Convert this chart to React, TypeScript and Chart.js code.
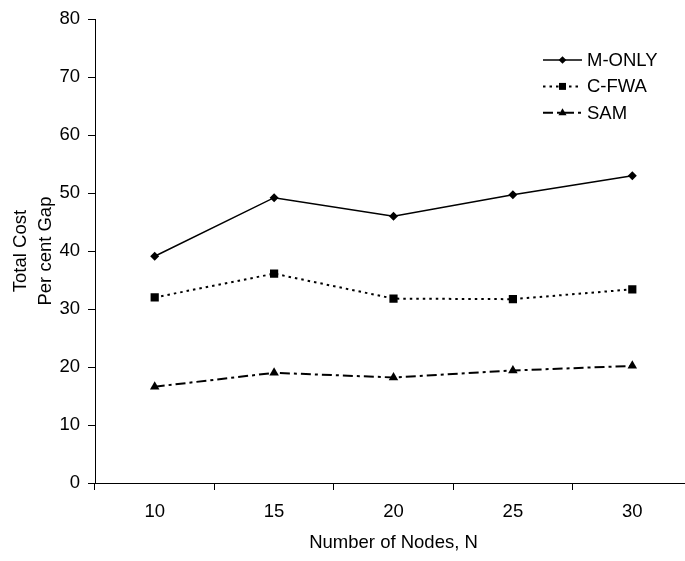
import React, { useEffect, useRef } from 'react';
import { Chart, registerables } from 'chart.js';
import { drawPoint } from 'chart.js/helpers';

Chart.register(...registerables);

// ---- data ----
const categories = ['10', '15', '20', '25', '30'];
const seriesNames = ['M-ONLY', 'C-FWA', 'SAM'];
const mOnly = [39.1, 49.2, 46.0, 49.7, 53.0];
const cFwa = [32.0, 36.1, 31.8, 31.7, 33.4];
const sam = [16.6, 19.0, 18.2, 19.4, 20.2];
const yMin = 0;
const yMax = 80;
const yStep = 10;
const xTitle = 'Number of Nodes, N';
const yTitle = ['Total Cost', 'Per cent Gap'];

const FONT = "'Liberation Sans', Arial, Helvetica, sans-serif";
const FS = 18.5;

const legendPlugin = {
  id: 'lineLegend',
  afterDraw(chart: any) {
    const ctx = chart.ctx;
    const x0 = 543;
    const x1 = 582;
    const tx = 587;
    const y0 = 60;
    const gap = 26.4;
    chart.data.datasets.forEach((ds: any, i: number) => {
      const y = y0 + i * gap;
      ctx.save();
      ctx.strokeStyle = ds.borderColor;
      ctx.lineWidth = ds.borderWidth;
      ctx.setLineDash(ds.borderDash || []);
      ctx.beginPath();
      ctx.moveTo(x0, y);
      ctx.lineTo(x1, y);
      ctx.stroke();
      ctx.setLineDash([]);
      ctx.fillStyle = ds.pointBackgroundColor;
      ctx.strokeStyle = ds.pointBorderColor;
      drawPoint(
        ctx,
        { pointStyle: ds.pointStyle, radius: ds.pointRadius * 0.85, rotation: 0, borderWidth: 0 },
        (x0 + x1) / 2,
        y
      );
      ctx.fillStyle = '#000';
      ctx.font = `${FS}px ${FONT}`;
      ctx.textAlign = 'left';
      ctx.textBaseline = 'middle';
      ctx.fillText(ds.label, tx, y + 1);
      ctx.restore();
    });
  },
};

export default function App() {
  const ref = useRef<HTMLCanvasElement | null>(null);

  useEffect(() => {
    if (!ref.current) return;
    const chart = new Chart(ref.current, {
      type: 'line',
      data: {
        labels: categories,
        datasets: [
          {
            label: seriesNames[0],
            data: mOnly,
            borderColor: '#000',
            backgroundColor: '#000',
            borderWidth: 1.5,
            pointStyle: 'rectRot',
            pointRadius: 4.5,
            pointBackgroundColor: '#000',
            pointBorderColor: '#000',
            pointBorderWidth: 0,
            tension: 0,
          },
          {
            label: seriesNames[1],
            data: cFwa,
            borderColor: '#000',
            backgroundColor: '#000',
            borderWidth: 2,
            borderDash: [2.5, 4],
            pointStyle: 'rect',
            pointRadius: 5.8,
            pointBackgroundColor: '#000',
            pointBorderColor: '#000',
            pointBorderWidth: 0,
            tension: 0,
          },
          {
            label: seriesNames[2],
            data: sam,
            borderColor: '#000',
            backgroundColor: '#000',
            borderWidth: 2,
            borderDash: [10, 4, 3, 4],
            pointStyle: 'triangle',
            pointRadius: 5.5,
            pointBackgroundColor: '#000',
            pointBorderColor: '#000',
            pointBorderWidth: 0,
            tension: 0,
          },
        ],
      },
      options: {
        animation: false,
        responsive: true,
        maintainAspectRatio: false,
        layout: { padding: { left: 0, top: 15, right: 28, bottom: 0 } },
        plugins: {
          legend: { display: false },
          tooltip: { enabled: false },
        },
        scales: {
          x: {
            type: 'category',
            offset: true,
            grid: {
              offset: true,
              drawOnChartArea: false,
              drawTicks: true,
              tickLength: 7,
              color: '#000',
            },
            border: { display: true, color: '#000', width: 1 },
            ticks: {
              color: '#000',
              padding: 11,
              font: { family: FONT, size: FS },
              maxRotation: 0,
            },
            title: {
              display: true,
              text: xTitle,
              color: '#000',
              font: { family: FONT, size: FS, lineHeight: 1.33 },
              padding: { top: 0, bottom: 5.7 },
            },
            afterFit(scale: any) {
              scale.height = 78;
            },
          },
          y: {
            min: yMin,
            max: yMax,
            ticks: {
              stepSize: yStep,
              color: '#000',
              padding: 8,
              font: { family: FONT, size: FS },
            },
            grid: {
              drawOnChartArea: false,
              drawTicks: true,
              tickLength: 7,
              color: '#000',
            },
            border: { display: true, color: '#000', width: 1 },
            title: {
              display: true,
              text: yTitle,
              color: '#000',
              font: { family: FONT, size: FS, lineHeight: 1.33 },
              padding: { top: 9, bottom: 0 },
            },
            afterFit(scale: any) {
              scale.width = 95;
            },
          },
        },
      },
      plugins: [legendPlugin],
    });
    return () => chart.destroy();
  }, []);

  return (
    <div
      style={{
        position: 'absolute',
        left: 0,
        top: 0,
        width: 685,
        height: 561,
        overflow: 'hidden',
        background: '#fff',
      }}
    >
      <div style={{ position: 'relative', width: 720, height: 561 }}>
        <canvas ref={ref} />
      </div>
    </div>
  );
}
